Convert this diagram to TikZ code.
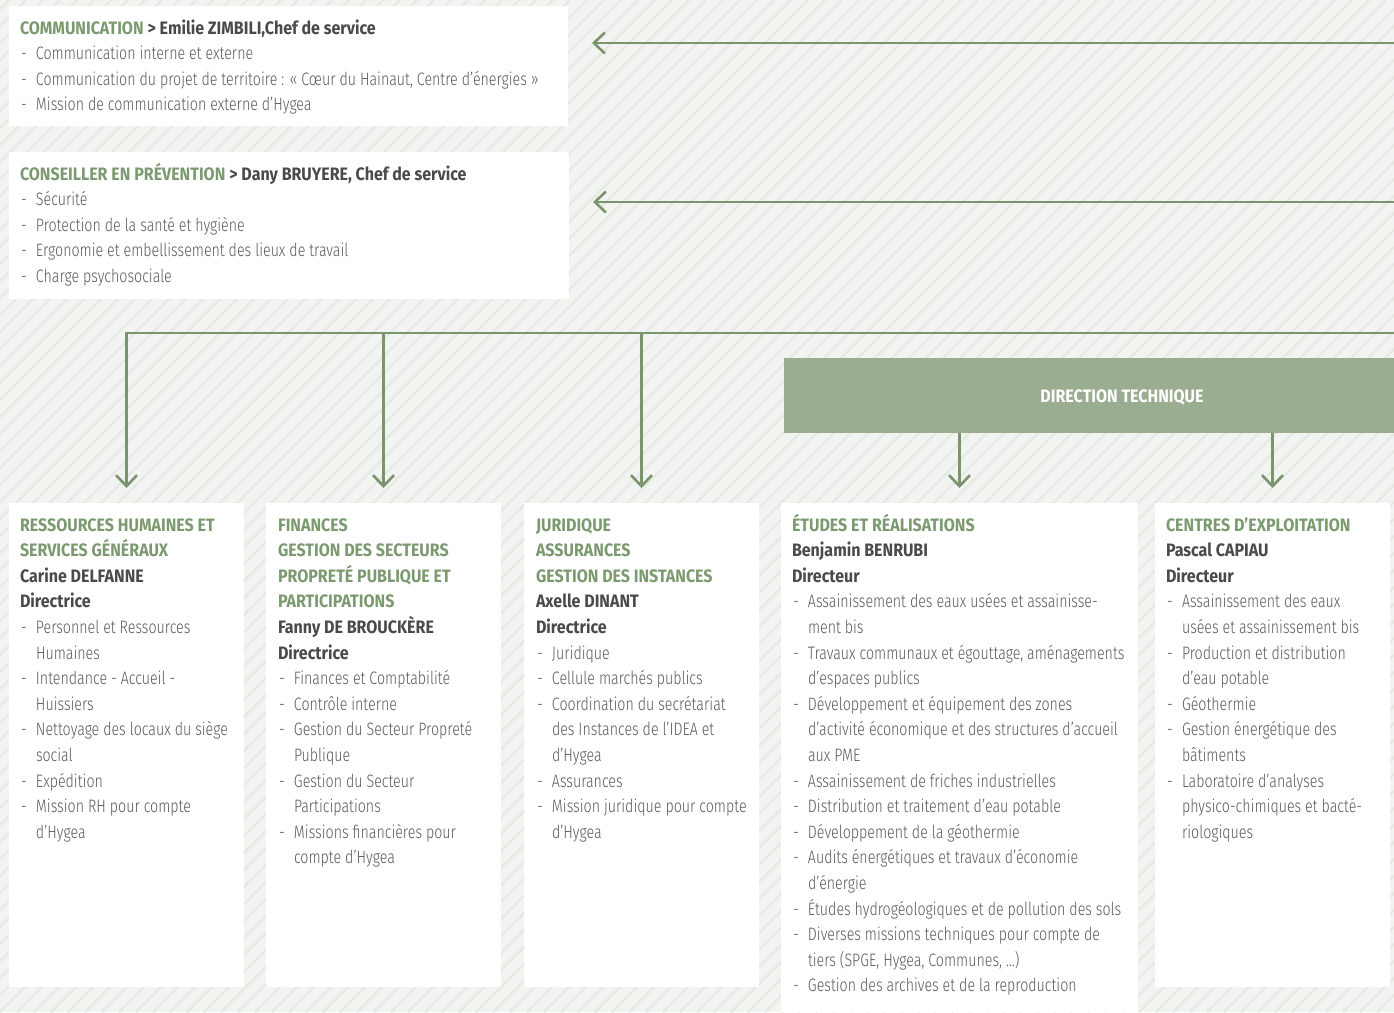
\documentclass[tikz,border=0pt]{standalone}
\usepackage{fontspec}
\setmainfont{Fira Sans Light}[FakeStretch=0.79]
\newfontfamily\headfont{Fira Sans}[FakeStretch=0.89]
\usetikzlibrary{arrows.meta}

\definecolor{bgcol}{HTML}{F2F4F1}
\definecolor{stripecol}{HTML}{E5E9E2}
\definecolor{linegreen}{HTML}{7A946E}
\definecolor{headgreen}{HTML}{7C9A6F}
\definecolor{dtfill}{HTML}{9BAD91}
\definecolor{darktext}{HTML}{4A4A4A}
\definecolor{itemtext}{HTML}{5A5A5A}

% text helpers
\newcommand\hd[1]{{\headfont\bfseries\color{headgreen}#1}}
\newcommand\nm[1]{{\headfont\bfseries\color{darktext}#1}}
\newcommand\itm[1]{\hspace*{1pt}\makebox[15pt][l]{-}#1}
\newcommand\cnt[1]{\hspace*{16pt}#1}
\newcommand\panelbox[2]{\parbox[t]{#1}{\leavevmode#2}}

\tikzset{
  panel/.style={fill=white, draw=none, inner sep=0pt, outer sep=0pt, anchor=north west},
  txt/.style={anchor=base west, inner sep=0pt, outer sep=0pt,
              font=\fontsize{18}{25.6}\selectfont, text=itemtext},
  conn/.style={draw=linegreen, line width=2.6pt},
  arr/.style={conn, -{Straight Barb[length=11pt,width=21pt]}},
  dtbox/.style={fill=dtfill, draw=none, inner sep=0pt, outer sep=0pt, anchor=north west},
  dtlabel/.style={text=white, font=\fontsize{18}{22}\selectfont\headfont\bfseries, inner sep=0pt}
}

\begin{document}
\begin{tikzpicture}[x=1pt, y=-1pt]
\useasboundingbox (0,0) rectangle (1394,1012);

% hatched background
\fill[bgcol] (0,0) rectangle (1394,1012);
\begin{scope}
  \clip (0,0) rectangle (1394,1012);
  \foreach \i in {-62,...,84}
    \draw[stripecol, line width=2.2pt] (\i*17,1012) -- ++(1012,-1012);
\end{scope}

% staff panels
\node[panel, minimum width=559pt, minimum height=120pt] (comm) at (9,6) {};
\node[panel, minimum width=560pt, minimum height=147pt] (prev) at (9,152) {};

% department panels
\node[panel, minimum width=235pt, minimum height=484pt] (rh)  at (9,503) {};
\node[panel, minimum width=235pt, minimum height=484pt] (fin) at (266,503) {};
\node[panel, minimum width=235pt, minimum height=484pt] (jur) at (524,503) {};
\node[panel, minimum width=357pt, minimum height=509pt] (etu) at (781,503) {};
\node[panel, minimum width=235pt, minimum height=484pt] (cen) at (1155,503) {};

% technical direction banner
\node[dtbox, minimum width=610pt, minimum height=75pt] (dt) at (784,358) {};
\node[dtlabel] (dttext) at (1122,397) {DIRECTION TECHNIQUE};

% texts
\node[txt] (commtxt) at ([shift={(11,28)}]comm.north west) {\panelbox{540pt}{%
\hd{COMMUNICATION} \nm{> Emilie ZIMBILI,Chef de service}\\
\itm{Communication interne et externe}\\
\itm{Communication du projet de territoire : « Cœur du Hainaut, Centre d’énergies »}\\
\itm{Mission de communication externe d’Hygea}}};

\node[txt] (prevtxt) at ([shift={(11,28)}]prev.north west) {\panelbox{540pt}{%
\hd{CONSEILLER EN PRÉVENTION} \nm{> Dany BRUYERE, Chef de service}\\
\itm{Sécurité}\\
\itm{Protection de la santé et hygiène}\\
\itm{Ergonomie et embellissement des lieux de travail}\\
\itm{Charge psychosociale}}};

\node[txt] (rhtxt) at ([shift={(11,28)}]rh.north west) {\panelbox{225pt}{%
\hd{RESSOURCES HUMAINES ET}\\
\hd{SERVICES GÉNÉRAUX}\\
\nm{Carine DELFANNE}\\
\nm{Directrice}\\
\itm{Personnel et Ressources}\\
\cnt{Humaines}\\
\itm{Intendance - Accueil -}\\
\cnt{Huissiers}\\
\itm{Nettoyage des locaux du siège}\\
\cnt{social}\\
\itm{Expédition}\\
\itm{Mission RH pour compte}\\
\cnt{d’Hygea}}};

\node[txt] (fintxt) at ([shift={(12,28)}]fin.north west) {\panelbox{225pt}{%
\hd{FINANCES}\\
\hd{GESTION DES SECTEURS}\\
\hd{PROPRETÉ PUBLIQUE ET}\\
\hd{PARTICIPATIONS}\\
\nm{Fanny DE BROUCKÈRE}\\
\nm{Directrice}\\
\itm{Finances et Comptabilité}\\
\itm{Contrôle interne}\\
\itm{Gestion du Secteur Propreté}\\
\cnt{Publique}\\
\itm{Gestion du Secteur}\\
\cnt{Participations}\\
\itm{Missions financières pour}\\
\cnt{compte d’Hygea}}};

\node[txt] (jurtxt) at ([shift={(12,28)}]jur.north west) {\panelbox{225pt}{%
\hd{JURIDIQUE}\\
\hd{ASSURANCES}\\
\hd{GESTION DES INSTANCES}\\
\nm{Axelle DINANT}\\
\nm{Directrice}\\
\itm{Juridique}\\
\itm{Cellule marchés publics}\\
\itm{Coordination du secrétariat}\\
\cnt{des Instances de l’IDEA et}\\
\cnt{d’Hygea}\\
\itm{Assurances}\\
\itm{Mission juridique pour compte}\\
\cnt{d’Hygea}}};

\node[txt] (etutxt) at ([shift={(11,28)}]etu.north west) {\panelbox{345pt}{%
\hd{ÉTUDES ET RÉALISATIONS}\\
\nm{Benjamin BENRUBI}\\
\nm{Directeur}\\
\itm{Assainissement des eaux usées et assainisse-}\\
\cnt{ment bis}\\
\itm{Travaux communaux et égouttage, aménagements}\\
\cnt{d’espaces publics}\\
\itm{Développement et équipement des zones}\\
\cnt{d’activité économique et des structures d’accueil}\\
\cnt{aux PME}\\
\itm{Assainissement de friches industrielles}\\
\itm{Distribution et traitement d’eau potable}\\
\itm{Développement de la géothermie}\\
\itm{Audits énergétiques et travaux d’économie}\\
\cnt{d’énergie}\\
\itm{Études hydrogéologiques et de pollution des sols}\\
\itm{Diverses missions techniques pour compte de}\\
\cnt{tiers (SPGE, Hygea, Communes, ...)}\\
\itm{Gestion des archives et de la reproduction}}};

\node[txt] (centxt) at ([shift={(11,28)}]cen.north west) {\panelbox{225pt}{%
\hd{CENTRES D’EXPLOITATION}\\
\nm{Pascal CAPIAU}\\
\nm{Directeur}\\
\itm{Assainissement des eaux}\\
\cnt{usées et assainissement bis}\\
\itm{Production et distribution}\\
\cnt{d’eau potable}\\
\itm{Géothermie}\\
\itm{Gestion énergétique des}\\
\cnt{bâtiments}\\
\itm{Laboratoire d’analyses}\\
\cnt{physico-chimiques et bacté-}\\
\cnt{riologiques}}};

% connectors
\coordinate (commR) at (1394,43);
\coordinate (prevR) at (1394,202);
\coordinate (busR)  at (1394,333);

\draw[arr, shorten >=24pt] (commR) -- (comm.east |- commR);
\draw[arr, shorten >=24pt] (prevR) -- (prev.east |- prevR);

\draw[arr, shorten >=15pt] (busR) -| (rh.north);
\draw[arr, shorten >=15pt] (fin.north |- busR) -- (fin.north);
\draw[arr, shorten >=15pt] (jur.north |- busR) -- (jur.north);

\draw[arr, shorten >=15pt] (etu.north |- dt.south) -- (etu.north);
\draw[arr, shorten >=15pt] (cen.north |- dt.south) -- (cen.north);
\end{tikzpicture}
\end{document}
